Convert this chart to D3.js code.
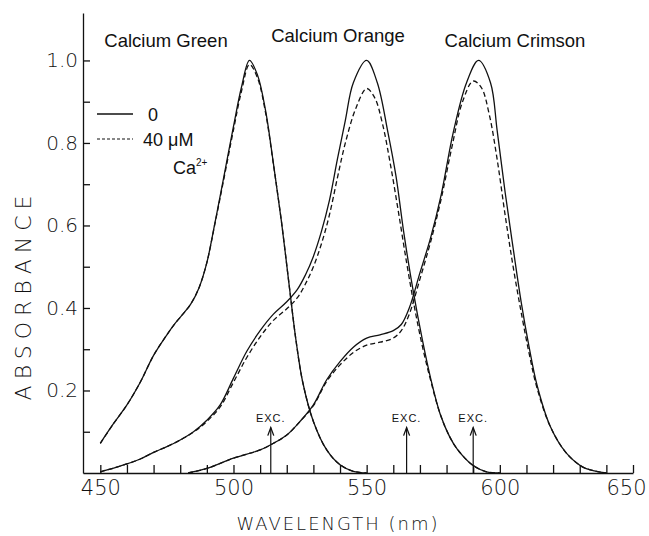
<!DOCTYPE html>
<html>
<head>
<meta charset="utf-8">
<script src="https://cdn.jsdelivr.net/npm/d3@7"></script>
<style>
  body { margin: 0; background: #fff; }
  svg { display: block; font-family: "Liberation Sans", Arial, sans-serif; }
  .axis text { font-family: "DejaVu Sans", sans-serif; font-weight: 200; fill: #111; }
  .axis path, .axis line { stroke: #111; stroke-width: 1.3; }
</style>
</head>
<body>
<svg width="649" height="536"></svg>
<script>
// wavelength (nm) / absorbance pairs
const greenSolid = [[450,0.072],[455,0.12],[460,0.165],[465,0.22],[470,0.285],[475,0.335],[478,0.362],[481,0.385],[484,0.41],[487,0.448],[490,0.51],[493,0.605],[496,0.705],[500,0.84],[503,0.935],[506,1.0],[509,0.965],[512,0.88],[515,0.75],[518,0.61],[521,0.45],[523.5,0.32],[526,0.22],[530,0.125],[535,0.056],[540,0.02],[545,0.004],[550,0]];
const greenDashed = [[450,0.072],[455,0.12],[460,0.165],[465,0.22],[470,0.285],[475,0.335],[478,0.362],[481,0.385],[484,0.41],[487,0.448],[490,0.51],[493,0.603],[496,0.7],[500,0.832],[503,0.925],[506,0.99],[509,0.958],[512,0.875],[515,0.748],[518,0.61],[521,0.45],[523.5,0.32],[526,0.22],[530,0.125],[535,0.056],[540,0.02],[545,0.004],[550,0]];
const orangeSolid = [[450,0.003],[455,0.012],[460,0.022],[465,0.034],[470,0.05],[475,0.064],[480,0.08],[485,0.1],[490,0.128],[495,0.165],[500,0.23],[505,0.295],[510,0.345],[515,0.385],[520,0.415],[524,0.445],[527,0.48],[530,0.525],[533,0.585],[536,0.66],[539,0.76],[542,0.855],[545,0.946],[550,1.0],[554,0.946],[558,0.825],[561,0.72],[564,0.58],[567.5,0.44],[571,0.32],[574,0.23],[577.5,0.145],[581,0.09],[584,0.058],[590,0.018],[595,0.003],[600,0]];
const orangeDashed = [[450,0.003],[455,0.012],[460,0.022],[465,0.034],[470,0.05],[475,0.064],[480,0.08],[485,0.099],[490,0.125],[495,0.16],[500,0.22],[505,0.28],[510,0.33],[515,0.37],[520,0.398],[524,0.425],[527,0.458],[530,0.5],[533,0.555],[536,0.625],[539,0.715],[542,0.8],[546,0.885],[550,0.932],[553,0.91],[556,0.845],[559,0.745],[562,0.63],[565,0.51],[568,0.4],[571,0.305],[574,0.225],[577.5,0.145],[581,0.09],[584,0.058],[590,0.018],[595,0.003],[600,0]];
const crimsonSolid = [[483,0],[490,0.011],[500,0.036],[510,0.056],[515,0.072],[520,0.092],[525,0.125],[530,0.165],[535,0.226],[540,0.27],[545,0.305],[550,0.327],[555,0.335],[560,0.345],[563,0.36],[566,0.4],[570,0.485],[574,0.57],[578,0.675],[582.5,0.825],[587.5,0.946],[592,1.0],[596.5,0.946],[599,0.83],[602,0.68],[605,0.545],[608,0.415],[611,0.305],[614,0.212],[619,0.112],[625,0.048],[631,0.015],[635,0.006],[640,0]];
const crimsonDashed = [[483,0],[490,0.011],[500,0.036],[510,0.056],[515,0.072],[520,0.092],[525,0.125],[530,0.163],[535,0.222],[540,0.262],[545,0.292],[550,0.31],[555,0.317],[560,0.327],[563,0.345],[566,0.385],[570,0.47],[574,0.56],[578,0.665],[582,0.79],[586,0.9],[590,0.95],[593,0.935],[596,0.87],[599,0.76],[602,0.625],[605,0.5],[608,0.39],[611,0.29],[614,0.205],[619,0.112],[625,0.048],[631,0.015],[635,0.006],[640,0]];

const dyeNames = ["Calcium Green", "Calcium Orange", "Calcium Crimson"];
const excitation = [514, 565, 590];
const xTicks = d3.range(450, 651, 10);
const xLabels = [450, 500, 550, 600, 650];
const yTicks = [0.1, 0.2, 0.3, 0.4, 0.5, 0.6, 0.7, 0.8, 0.9, 1.0];
const yLabels = [0.2, 0.4, 0.6, 0.8, 1.0];

const svg = d3.select("svg");

const x = d3.scaleLinear().domain([443.5, 650]).range([83, 633]);
const y = d3.scaleLinear().domain([0, 1.115]).range([473, 13]);

// axes, ticks pointing inwards
svg.append("g")
    .attr("class", "axis")
    .attr("transform", "translate(0," + y(0) + ")")
    .call(d3.axisBottom(x)
        .tickValues(xTicks)
        .tickSize(-8)
        .tickSizeOuter(0)
        .tickPadding(7)
        .tickFormat(d => xLabels.includes(d) ? d : ""))
    .selectAll("text")
    .attr("font-size", 21)
    .attr("dx", d => d === 650 ? -7 : 0);

svg.append("g")
    .attr("class", "axis")
    .attr("transform", "translate(" + x(443.5) + ",0)")
    .call(d3.axisLeft(y)
        .tickValues(yTicks)
        .tickSize(-7)
        .tickSizeOuter(0)
        .tickPadding(5)
        .tickFormat(d => yLabels.some(v => Math.abs(v - d) < 1e-9) ? d3.format(".1f")(d) : ""))
    .selectAll("text").attr("font-size", 20);

// axis titles
svg.append("text")
    .attr("transform", "translate(31,295) rotate(-90)")
    .attr("text-anchor", "middle")
    .attr("font-family", "DejaVu Sans, sans-serif")
    .attr("font-weight", 200)
    .attr("font-size", 22)
    .attr("letter-spacing", 6)
    .attr("fill", "#111")
    .text("ABSORBANCE");

svg.append("text")
    .attr("x", 338)
    .attr("y", 530)
    .attr("text-anchor", "middle")
    .attr("font-family", "DejaVu Sans, sans-serif")
    .attr("font-weight", 200)
    .attr("font-size", 18)
    .attr("letter-spacing", 2)
    .attr("fill", "#111")
    .text("WAVELENGTH (nm)");

// spectra
const line = d3.line()
    .x(d => x(d[0]))
    .y(d => y(d[1]))
    .curve(d3.curveCatmullRom.alpha(0.5));

const series = [
    { data: greenSolid, dash: null },
    { data: greenDashed, dash: "5,3" },
    { data: orangeSolid, dash: null },
    { data: orangeDashed, dash: "5,3" },
    { data: crimsonSolid, dash: null },
    { data: crimsonDashed, dash: "5,3" }
];

svg.append("g")
    .selectAll("path")
    .data(series)
    .join("path")
    .attr("d", d => line(d.data))
    .attr("fill", "none")
    .attr("stroke", "#111")
    .attr("stroke-width", 1.3)
    .attr("stroke-dasharray", d => d.dash);

// dye names above the peaks
svg.append("g")
    .selectAll("text")
    .data(dyeNames)
    .join("text")
    .attr("x", (d, i) => [166, 338, 515][i])
    .attr("y", (d, i) => [47, 42, 47][i])
    .attr("text-anchor", "middle")
    .attr("font-size", 18.5)
    .attr("fill", "#111")
    .text(d => d);

// excitation arrows
const exc = svg.append("g").selectAll("g")
    .data(excitation)
    .join("g");

exc.append("line")
    .attr("x1", d => x(d))
    .attr("x2", d => x(d))
    .attr("y1", y(0))
    .attr("y2", y(0.11))
    .attr("stroke", "#111")
    .attr("stroke-width", 1.2);

exc.append("path")
    .attr("d", d => "M" + (x(d) - 3) + "," + (y(0.11) + 8) + "L" + x(d) + "," + y(0.11) + "L" + (x(d) + 3) + "," + (y(0.11) + 8))
    .attr("fill", "none")
    .attr("stroke", "#111")
    .attr("stroke-width", 1.3);

exc.append("text")
    .attr("x", d => x(d))
    .attr("y", y(0.11) - 6)
    .attr("text-anchor", "middle")
    .attr("font-size", 11)
    .attr("letter-spacing", 1)
    .attr("fill", "#111")
    .text("EXC.");

// legend
const legend = svg.append("g");
legend.append("line")
    .attr("x1", 97).attr("x2", 133).attr("y1", 114).attr("y2", 114)
    .attr("stroke", "#111").attr("stroke-width", 1.3);
legend.append("line")
    .attr("x1", 97).attr("x2", 133).attr("y1", 139).attr("y2", 139)
    .attr("stroke", "#111").attr("stroke-width", 1.1)
    .attr("stroke-dasharray", "3,2");
legend.append("text")
    .attr("x", 148).attr("y", 121)
    .attr("font-size", 18).attr("fill", "#111")
    .text("0");
legend.append("text")
    .attr("x", 143).attr("y", 146)
    .attr("font-size", 18).attr("fill", "#111")
    .text("40 \u03bcM");
const ca = legend.append("text")
    .attr("x", 173).attr("y", 174)
    .attr("font-size", 18).attr("fill", "#111")
    .text("Ca");
ca.append("tspan")
    .attr("dy", -8)
    .attr("font-size", 10)
    .text("2+");
</script>
</body>
</html>
